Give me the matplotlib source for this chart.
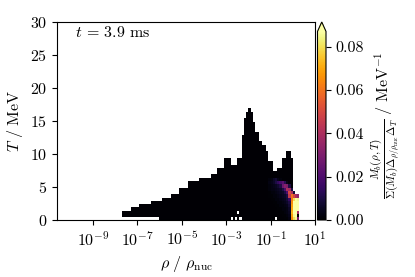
import numpy as np
import matplotlib
matplotlib.use("Agg")
import matplotlib.pyplot as plt
from matplotlib.ticker import FixedLocator, NullLocator, LogFormatterMathtext

plt.rcParams['font.family'] = 'serif'
plt.rcParams['font.serif'] = ['cmr10']
plt.rcParams['mathtext.fontset'] = 'cm'
plt.rcParams['axes.formatter.use_mathtext'] = True
plt.rcParams['axes.unicode_minus'] = False
plt.rcParams['font.size'] = 11.5

# silhouette of the occupied region: start of each segment in log10(rho/rho_nuc), top T in MeV
seg_lr = [-7.66, -7.33, -6.85, -6.35, -5.92, -5.48, -5.05, -4.65, -4.15, -3.7,
          -3.35, -3.05, -2.8, -2.5, -2.3, -2.2, -2.15, -2.0, -1.9, -1.8,
          -1.65, -1.5, -1.4, -1.2, -1.1, -0.9, -0.65, -0.45, -0.3, -0.13,
          0.0, 0.1]
seg_top = [1.4, 1.9, 2.4, 2.9, 3.4, 3.9, 4.9, 5.9, 6.4, 6.9,
           7.9, 9.4, 8.4, 9.4, 13.0, 15.4, 16.4, 16.9, 16.2, 14.7,
           13.6, 12.1, 11.6, 10.4, 8.9, 7.4, 7.9, 9.4, 10.4, 9.4,
           4.4, 3.9]
seg_end = 0.3
low_cut_lr = -6.0   # left of this the lowest T bin is empty
base_val = 0.0006

# coloured cells near nuclear density
hot_lr = [-1.05, -0.95, -0.85, -0.75, -0.65, -0.55, -0.45, -0.35, -0.25, -0.15,
          -0.05, 0.05, 0.15, 0.25]
hot_T = [6.15, 5.65, 5.15, 4.65, 4.15, 3.65, 3.15, 2.65, 2.15, 1.65, 1.15, 0.65, 0.15]
hot_vals = [
    [0.002, 0.003, 0.006, 0.008, 0.004, 0.002, 0, 0, 0, 0, 0, 0, 0, 0],
    [0.003, 0.004, 0.006, 0.010, 0.014, 0.018, 0.022, 0.012, 0.004, 0, 0, 0, 0, 0],
    [0.002, 0.003, 0.004, 0.005, 0.007, 0.010, 0.026, 0.032, 0.030, 0.010, 0, 0, 0, 0],
    [0.002, 0.003, 0.003, 0.004, 0.005, 0.006, 0.010, 0.020, 0.040, 0.038, 0.010, 0, 0, 0],
    [0.001, 0.002, 0.002, 0.003, 0.004, 0.005, 0.006, 0.010, 0.020, 0.050, 0.040, 0.008, 0, 0],
    [0.001, 0.001, 0.002, 0.002, 0.003, 0.004, 0.005, 0.006, 0.010, 0.045, 0.060, 0.050, 0.040, 0.035],
    [0, 0.001, 0.001, 0.002, 0.002, 0.003, 0.004, 0.005, 0.008, 0.015, 0.062, 0.080, 0.090, 0.085],
    [0, 0, 0.001, 0.001, 0.002, 0.002, 0.003, 0.004, 0.006, 0.010, 0.065, 0.090, 0.100, 0.090],
    [0, 0, 0, 0.001, 0.001, 0.002, 0.002, 0.003, 0.004, 0.008, 0.068, 0.095, 0.100, 0.090],
    [0, 0, 0, 0, 0.001, 0.001, 0.002, 0.002, 0.003, 0.006, 0.070, 0.095, 0.100, 0.088],
    [0, 0, 0, 0, 0, 0.001, 0.001, 0.002, 0.003, 0.005, 0.072, 0.090, 0.095, 0.040],
    [0, 0, 0, 0, 0, 0, 0.001, 0.001, 0.002, 0.004, 0.068, 0.085, 0.090, 0.001],
    [0, 0, 0, 0, 0, 0, 0, 0.001, 0.001, 0.003, 0.065, 0.080, 0.085, 0.030],
]

# empty cells inside the region
hole_lr = [-2.75, -2.55, -2.35, -2.45, -0.75]
hole_T = [0.15, 0.15, 0.15, 1.15, 0.15]

# bins
x_edges = np.round(np.arange(-10.6, 1.001, 0.1), 3)
y_edges = np.arange(-0.1, 30.01, 0.5)
xc = 0.5 * (x_edges[:-1] + x_edges[1:])
yc = 0.5 * (y_edges[:-1] + y_edges[1:])
H = np.zeros((len(xc), len(yc)))

bounds = seg_lr + [seg_end]
for i in range(len(seg_top)):
    for ix, lr in enumerate(xc):
        if bounds[i] <= lr < bounds[i + 1]:
            bottom = 0.4 if lr < low_cut_lr else -0.1
            H[ix, (yc < seg_top[i]) & (yc > bottom)] = base_val

def idx(lr, T):
    return int(round((lr - xc[0]) / 0.1)), int(round((T - yc[0]) / 0.5))

for r, T in enumerate(hot_T):
    for c, lr in enumerate(hot_lr):
        v = hot_vals[r][c]
        if v > 0:
            ix, iy = idx(lr, T)
            H[ix, iy] = max(H[ix, iy], v)

for lr, T in zip(hole_lr, hole_T):
    ix, iy = idx(lr, T)
    H[ix, iy] = 0

Hm = np.ma.masked_equal(H, 0)

fig = plt.figure(figsize=(4.15, 2.77), dpi=100)
ax = fig.add_axes([57.3 / 415, 57 / 277, 257.7 / 415, 198 / 277])
cax = fig.add_axes([317.5 / 415, 57 / 277, 8.5 / 415, 198 / 277])

mesh = ax.pcolormesh(10 ** x_edges, y_edges, Hm.T, cmap='inferno', vmin=0, vmax=0.087)
ax.set_xscale('log')
ax.set_xlim(10 ** -10.6, 10)
ax.set_ylim(0, 30)
ax.xaxis.set_major_locator(FixedLocator([1e-9, 1e-7, 1e-5, 1e-3, 1e-1, 1e1]))
ax.xaxis.set_major_formatter(LogFormatterMathtext())
ax.xaxis.set_minor_locator(NullLocator())
ax.set_yticks([0, 5, 10, 15, 20, 25, 30])
ax.set_xlabel(r'$\rho\ /\ \rho_{\mathrm{nuc}}$')
ax.set_ylabel(r'$T\ /\ \mathrm{MeV}$')
ax.text(0.07, 0.945, r'$t$ = 3.9 ms', transform=ax.transAxes, va='center', ha='left')

cb = fig.colorbar(mesh, cax=cax, extend='max')
cb.set_ticks([0, 0.02, 0.04, 0.06, 0.08])
cb.ax.set_yticklabels(['0.00', '0.02', '0.04', '0.06', '0.08'])
cb.ax.minorticks_off()
cb.set_label(r'$\frac{M_b(\rho,T)}{\Sigma(M_b)\Delta_{\rho/\rho_{\rm nuc}}\Delta_T}\ /\ \mathrm{MeV}^{-1}$')

fig.savefig('out.png', dpi=100)
